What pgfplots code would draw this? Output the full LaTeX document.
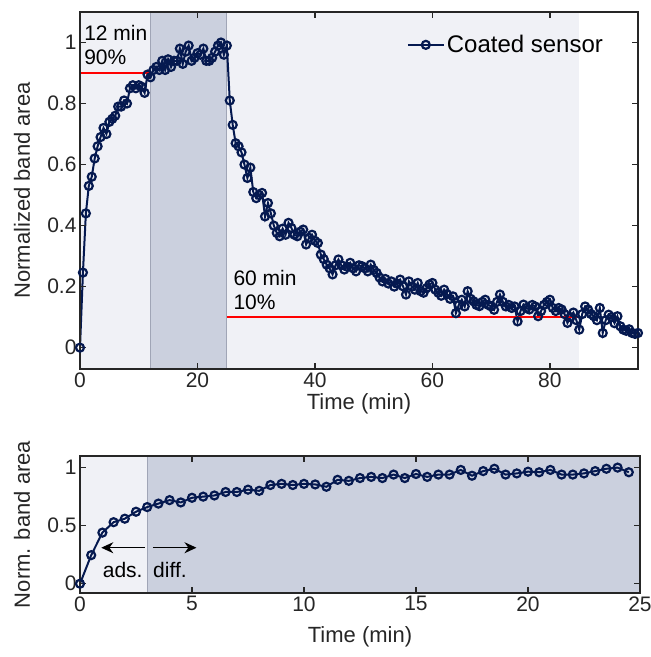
\documentclass[border=0pt]{standalone}
\usepackage{fontspec}
\setmainfont{Liberation Sans}
\usepackage{pgfplots}
\usepackage{pgfplotstable}
\pgfplotsset{compat=1.18}
\usetikzlibrary{arrows.meta}

\definecolor{navy}{RGB}{5,25,80}
\definecolor{shadelight}{RGB}{240,241,246}
\definecolor{shadedark}{RGB}{203,208,222}
\definecolor{shadeedge}{RGB}{160,165,182}
\definecolor{axisgray}{RGB}{38,38,38}

% normalized band area vs time (min)
\pgfplotstableread{
t v
0 0
0.5 0.246
1 0.44
1.5 0.53
2 0.56
2.5 0.62
3 0.66
3.5 0.69
4 0.72
4.5 0.70
5 0.74
5.5 0.75
6 0.76
6.5 0.79
7 0.79
7.5 0.81
8 0.80
8.5 0.85
9 0.86
9.5 0.85
10 0.86
10.5 0.855
11 0.835
11.5 0.895
12 0.886
12.5 0.91
13 0.92
13.5 0.91
14 0.94
14.5 0.91
15 0.945
15.5 0.92
16 0.94
16.5 0.94
17 0.98
17.5 0.93
18 0.97
18.5 0.99
19 0.94
19.5 0.95
20 0.965
20.5 0.96
21 0.98
21.5 0.94
22 0.94
22.5 0.95
23 0.97
23.5 0.99
24 1.0
24.5 0.96
25 0.99
25.5 0.81
26 0.73
26.5 0.67
27 0.66
27.5 0.64
28 0.60
28.5 0.556
29 0.59
29.5 0.51
30 0.49
30.5 0.50
31 0.507
31.5 0.43
32 0.474
32.5 0.44
33 0.40
33.5 0.376
34 0.365
34.5 0.39
35 0.37
35.5 0.409
36 0.392
36.5 0.37
37 0.365
37.5 0.38
38 0.387
38.5 0.338
39 0.36
39.5 0.37
40 0.35
40.5 0.343
41 0.305
41.5 0.29
42 0.272
42.5 0.26
43 0.24
43.5 0.27
44 0.289
44.5 0.27
45 0.256
45.5 0.265
46 0.278
46.5 0.26
47 0.25
47.5 0.27
48 0.267
48.5 0.26
49 0.25
49.5 0.272
50 0.255
50.5 0.245
51 0.23
51.5 0.217
52 0.225
52.5 0.21
53 0.217
53.5 0.20
54 0.21
54.5 0.223
55 0.201
55.5 0.174
56 0.217
56.5 0.20
57 0.19
57.5 0.212
58 0.185
58.5 0.18
59 0.195
59.5 0.207
60 0.212
60.5 0.19
61 0.18
61.5 0.17
62 0.19
62.5 0.175
63 0.16
63.5 0.168
64 0.113
64.5 0.14
65 0.157
65.5 0.135
66 0.185
66.5 0.16
67 0.152
67.5 0.14
68 0.136
68.5 0.15
69 0.157
69.5 0.14
70 0.135
70.5 0.124
71 0.15
71.5 0.174
72 0.15
72.5 0.135
73 0.14
73.5 0.13
74 0.135
74.5 0.086
75 0.12
75.5 0.141
76 0.13
76.5 0.125
77 0.14
77.5 0.135
78 0.103
78.5 0.12
79 0.14
79.5 0.15
80 0.157
80.5 0.13
81 0.12
81.5 0.13
82 0.125
82.5 0.11
83 0.081
83.5 0.10
84 0.115
84.5 0.09
85 0.059
85.5 0.11
86 0.135
86.5 0.125
87 0.11
87.5 0.103
88 0.09
88.5 0.13
89 0.048
89.5 0.09
90 0.108
90.5 0.10
91 0.08
91.5 0.103
92 0.07
92.5 0.059
93 0.055
93.5 0.06
94 0.048
94.5 0.045
95 0.048
}\datatab

\pgfplotsset{
  panel/.style={
    scale only axis,
    axis on top,
    axis line style={axisgray, line width=1.5pt},
    tick style={axisgray, line width=1.5pt},
    major tick length=6pt,
    tick align=inside,
    ticklabel style={font=\fontsize{21}{24}\selectfont, text=black!85},
    /pgf/number format/assume math mode=true,
  },
  series/.style={navy, line width=2pt, mark=o, mark size=4pt,
    mark options={line width=2.2pt, solid}},
}

\begin{document}
\begin{tikzpicture}
\path[use as bounding box] (0pt,0pt) rectangle (651pt,657pt);

% upper panel
\begin{axis}[panel,
  at={(80pt,288pt)}, anchor=south west,
  width=558pt, height=357pt,
  xmin=0, xmax=95, ymin=-0.07, ymax=1.1,
  xtick={0,20,40,60,80},
  ytick={0,0.2,0.4,0.6,0.8,1},
  xlabel={Time (min)},
  ylabel={Normalized band area},
  every axis x label/.style={at={(axis description cs:0.5,-0.098)}, anchor=center,
    font=\fontsize{22}{26}\selectfont, text=black!85},
  every axis y label/.style={at={(axis description cs:-0.104,0.5)}, anchor=center, rotate=90,
    font=\fontsize{22}{26}\selectfont, text=black!85},
  legend style={at={(axis description cs:0.58,0.908)}, anchor=west,
    draw=none, fill=none, font=\fontsize{24}{28}\selectfont},
  legend image code/.code={\draw[mark repeat=2,mark phase=2,#1]
    plot coordinates {(0pt,0pt) (18pt,0pt) (36pt,0pt)};},
]
\fill[shadelight] (axis cs:0,-0.07) rectangle (axis cs:85,1.1);
\fill[shadedark] (axis cs:12,-0.07) rectangle (axis cs:25,1.1);
\draw[shadeedge, line width=0.8pt] (axis cs:12,-0.07) -- (axis cs:12,1.1)
  (axis cs:25,-0.07) -- (axis cs:25,1.1);
\addplot[series] table[x=t, y=v] {\datatab};
\addlegendentry{Coated sensor}
\addplot[red, line width=2.5pt, forget plot] coordinates {(0,0.9) (12,0.9)};
\addplot[red, line width=2.5pt, forget plot] coordinates {(25,0.1) (85,0.1)};
\node[anchor=south west, align=left, inner sep=0pt, font=\fontsize{21}{24}\selectfont]
  at (axis cs:0.7,0.925) {12 min\\90\%};
\node[anchor=south west, align=left, inner sep=0pt, font=\fontsize{21}{24}\selectfont]
  at (axis cs:26.1,0.125) {60 min\\10\%};
\end{axis}

% lower panel
\begin{axis}[panel,
  at={(80pt,64pt)}, anchor=south west,
  width=560pt, height=137pt,
  xmin=0, xmax=25, ymin=-0.08, ymax=1.1,
  xtick={0,5,10,15,20,25},
  ytick={0,0.5,1},
  xlabel={Time (min)},
  ylabel={Norm. band area},
  every axis x label/.style={at={(axis description cs:0.5,-0.32)}, anchor=center,
    font=\fontsize{22}{26}\selectfont, text=black!85},
  every axis y label/.style={at={(axis description cs:-0.1036,0.5)}, anchor=center, rotate=90,
    font=\fontsize{22}{26}\selectfont, text=black!85},
]
\fill[shadelight] (axis cs:0,-0.08) rectangle (axis cs:3,1.1);
\fill[shadedark] (axis cs:3,-0.08) rectangle (axis cs:25,1.1);
\draw[shadeedge, line width=0.8pt] (axis cs:3,-0.08) -- (axis cs:3,1.1);
\addplot[series, restrict x to domain=0:24.6] table[x=t, y=v] {\datatab};
\draw[black, line width=1.2pt, -{Stealth[length=12pt, width=11pt]}]
  (axis cs:2.9,0.31) -- (axis cs:0.95,0.31);
\draw[black, line width=1.2pt, -{Stealth[length=12pt, width=11pt]}]
  (axis cs:3.25,0.31) -- (axis cs:5.2,0.31);
\node[anchor=mid east, inner sep=0pt, font=\fontsize{21}{24}\selectfont]
  at (axis cs:2.8,0.08) {ads.};
\node[anchor=mid west, inner sep=0pt, font=\fontsize{21}{24}\selectfont]
  at (axis cs:3.26,0.08) {diff.};
\end{axis}
\end{tikzpicture}
\end{document}
